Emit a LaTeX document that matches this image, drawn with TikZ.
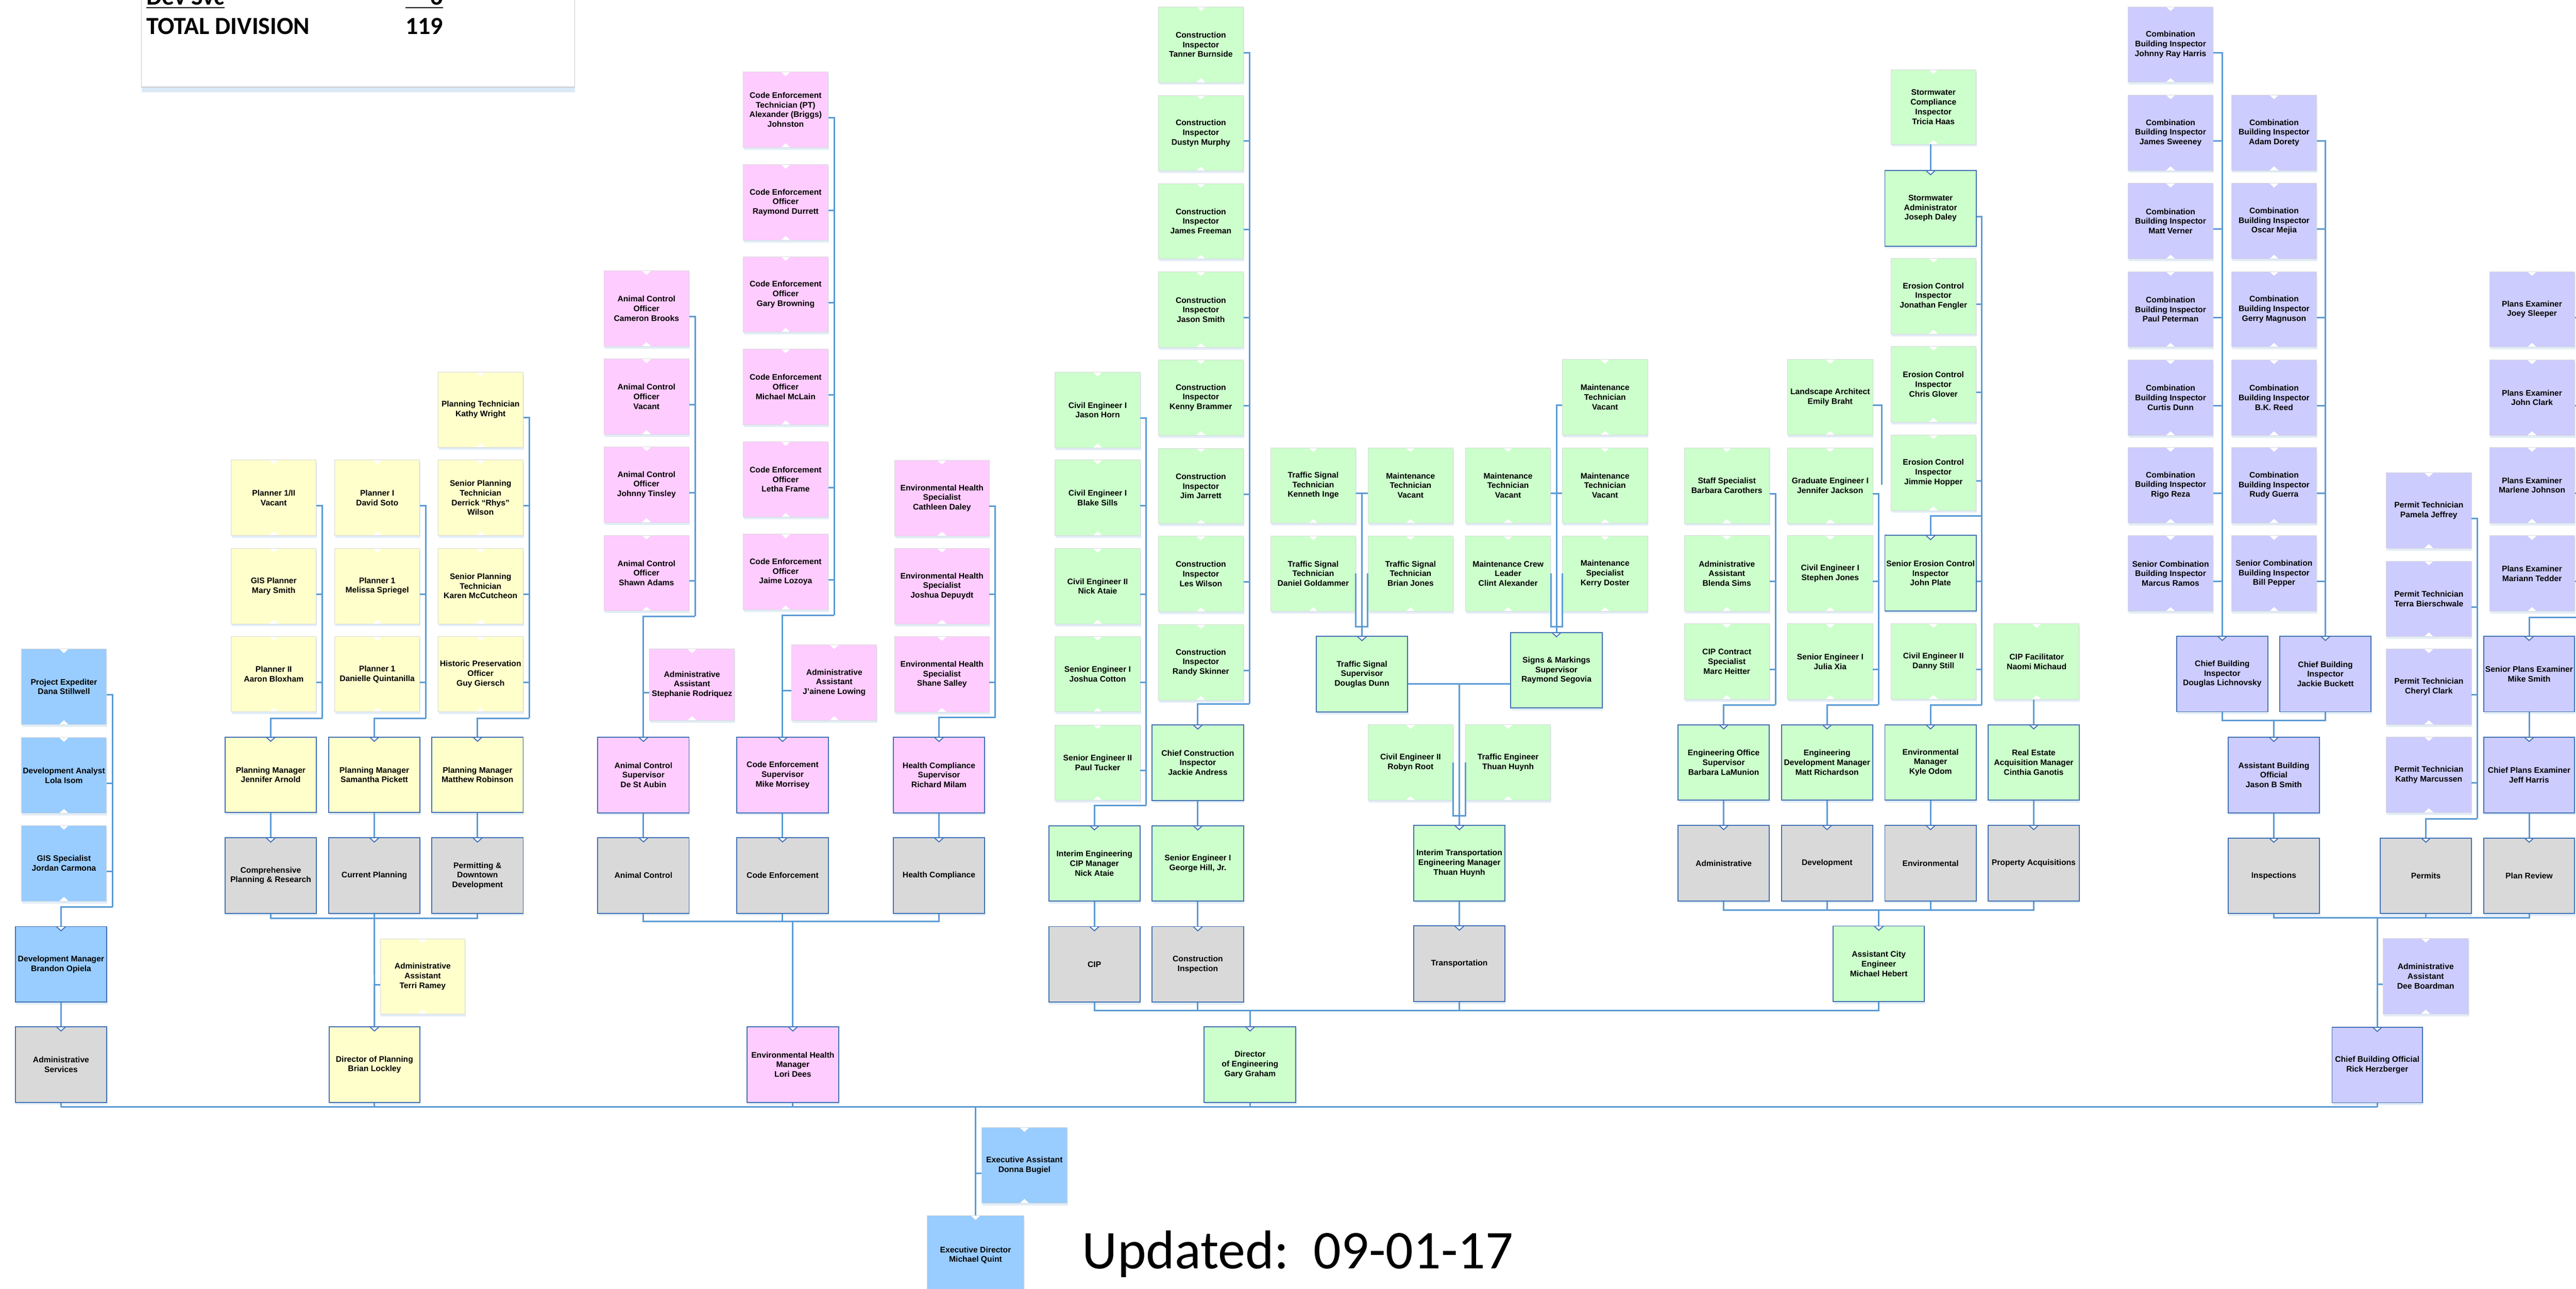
\documentclass[tikz,border=0pt]{standalone}
\usepackage{fontspec}
\setmainfont{Liberation Sans}
\newfontfamily\calib{Carlito}
\usetikzlibrary{shadows}
\newdimen\U \U=4.2672pt
\def\stoff{21pt}
\definecolor{blu}{RGB}{153,204,255}
\definecolor{yel}{RGB}{255,255,204}
\definecolor{pnk}{RGB}{255,204,255}
\definecolor{grn}{RGB}{204,255,204}
\definecolor{lav}{RGB}{204,204,255}
\definecolor{gry}{RGB}{217,217,217}
\definecolor{conc}{RGB}{91,155,213}
\definecolor{bord}{RGB}{65,113,180}
\tikzset{
 sz/.style 2 args={minimum width=#1*\U, minimum height=#2*\U},
 boxbase/.style={rectangle, inner sep=0pt, align=center, fill=#1,
   font=\fontsize{21}{25}\selectfont\bfseries,
   drop shadow={shadow xshift=2pt, shadow yshift=-6pt, fill=conc, opacity=0.18}},
 leaf/.style={boxbase=#1, sz={51.8}{46}, draw=black!15, line width=1pt,
   path picture={
    \fill[white] ([xshift=-12pt]path picture bounding box.north) -- ([yshift=-11pt]path picture bounding box.north) -- ([xshift=12pt]path picture bounding box.north) -- cycle;
    \fill[white] ([xshift=-12pt]path picture bounding box.south) -- ([yshift=11pt]path picture bounding box.south) -- ([xshift=12pt]path picture bounding box.south) -- cycle;}},
 mgr/.style={boxbase=#1, sz={55.6}{46}, draw=bord, line width=2.5pt,
   path picture={
    \fill[white] ([xshift=-12pt]path picture bounding box.north) -- ([yshift=-11pt]path picture bounding box.north) -- ([xshift=12pt]path picture bounding box.north) -- cycle;
    \draw[bord, line width=2.5pt] ([xshift=-12pt]path picture bounding box.north) -- ([yshift=-11pt]path picture bounding box.north) -- ([xshift=12pt]path picture bounding box.north);}},
 con/.style={draw=conc, line width=4pt},
 sumtxt/.style={anchor=base west, inner sep=0pt, font=\calib\bfseries\fontsize{64}{70}\selectfont},
}
\begin{document}
\begin{tikzpicture}[x=4.2672pt,y=-4.2672pt]
\useasboundingbox (0,0) rectangle (1568,784.36);

% ---------- summary box ----------
\fill[conc!22] (86.2,53) rectangle (349.9,56);
\draw[draw=black!20, line width=1.5pt, fill=white] (86.2,-20) rectangle (349.9,53);
\node[sumtxt] (dsv) at (89.1,3.1) {Dev Svc};
\node[sumtxt] (dsn) at (246.8,3.1) {\phantom{11}6};
\draw[line width=3.2pt] ([yshift=-7pt]dsv.base west) -- ([yshift=-7pt]dsv.base east);
\draw[line width=3.2pt] ([yshift=-7pt]dsn.base west) -- ([yshift=-7pt]dsn.base east);
\node[sumtxt] (tdv) at (89.1,20.9) {TOTAL DIVISION};
\node[sumtxt] (tdn) at (246.8,20.9) {119};

% ---------- Development services ----------
\node[leaf=blu] (pe) at (38.9,418) {Project Expediter\\Dana Stillwell};
\node[leaf=blu] (da) at (38.9,472) {Development Analyst\\Lola Isom};
\node[leaf=blu] (gis) at (38.9,525.5) {GIS Specialist\\Jordan Carmona};
\node[mgr=blu] (dm) at (37.15,587) {Development Manager\\Brandon Opiela};
\node[mgr=gry] (as) at (37.15,648) {Administrative\\Services};

% ---------- Planning ----------
\node[leaf=yel] (p1) at (166.6,303) {Planner 1/II\\Vacant};
\node[leaf=yel] (p2) at (166.6,356.75) {GIS Planner\\Mary Smith};
\node[leaf=yel] (p3) at (166.6,410.35) {Planner II\\Aaron Bloxham};
\node[leaf=yel] (p4) at (229.6,303) {Planner I\\David Soto};
\node[leaf=yel] (p5) at (229.6,356.75) {Planner 1\\Melissa Spriegel};
\node[leaf=yel] (p6) at (229.6,410.35) {Planner 1\\Danielle Quintanilla};
\node[leaf=yel] (p7) at (292.5,249.4) {Planning Technician\\Kathy Wright};
\node[leaf=yel] (p8) at (292.5,303) {Senior Planning\\Technician\\Derrick “Rhys”\\Wilson};
\node[leaf=yel] (p9) at (292.5,356.75) {Senior Planning\\Technician\\Karen McCutcheon};
\node[leaf=yel] (p10) at (292.5,410.35) {Historic Preservation\\Officer\\Guy Giersch};
\node[mgr=yel] (pm1) at (164.8,471.65) {Planning Manager\\Jennifer Arnold};
\node[mgr=yel] (pm2) at (227.85,471.65) {Planning Manager\\Samantha Pickett};
\node[mgr=yel] (pm3) at (290.65,471.65) {Planning Manager\\Matthew Robinson};
\node[mgr=gry] (d1) at (164.8,533) {Comprehensive\\Planning \& Research};
\node[mgr=gry] (d2) at (227.85,533) {Current Planning};
\node[mgr=gry] (d3) at (290.65,533) {Permitting \&\\Downtown\\Development};
\node[leaf=yel, sz={51.7}{45.8}] (ta) at (257.25,594.4) {Administrative\\Assistant\\Terri Ramey};
\node[mgr=yel, sz={55.1}{46}] (dp) at (227.95,648) {Director of Planning\\Brian Lockley};

% ---------- Environmental health ----------
\foreach \n/\yy/\nm in {ac1/187.8/Cameron Brooks, ac2/241.45/Vacant, ac3/295/Johnny Tinsley, ac4/348.8/Shawn Adams}
  \node[leaf=pnk] (\n) at (393.5,\yy) {Animal Control\\Officer\\\nm};
\node[leaf=pnk, sz={51.6}{43.5}] (aa1) at (421.2,416.75) {Administrative\\Assistant\\Stephanie Rodriquez};
\node[mgr=pnk] (acs) at (391.65,471.75) {Animal Control\\Supervisor\\De St Aubin};
\node[mgr=gry] (acd) at (391.65,532.9) {Animal Control};
\node[leaf=pnk] (ce1) at (478.2,66.8) {Code Enforcement\\Technician (PT)\\Alexander (Briggs)\\Johnston};
\foreach \n/\yy/\nm in {ce2/123.2/Raymond Durrett, ce3/179.2/Gary Browning, ce4/235.5/Michael McLain, ce5/291.8/Letha Frame, ce6/348.15/Jaime Lozoya}
  \node[leaf=pnk] (\n) at (478.2,\yy) {Code Enforcement\\Officer\\\nm};
\node[leaf=pnk] (aa2) at (507.8,415.5) {Administrative\\Assistant\\J’ainene Lowing};
\node[mgr=pnk] (ces) at (476.35,471.75) {Code Enforcement\\Supervisor\\Mike Morrisey};
\node[mgr=gry] (ced) at (476.35,532.9) {Code Enforcement};
\foreach \n/\yy/\nm in {eh1/303.2/Cathleen Daley, eh2/356.8/Joshua Depuydt, eh3/410.5/Shane Salley}
  \node[leaf=pnk, sz={57.5}{46}] (\n) at (573.35,\yy) {Environmental Health\\Specialist\\\nm};
\node[mgr=pnk] (hcs) at (571.55,471.75) {Health Compliance\\Supervisor\\Richard Milam};
\node[mgr=gry] (hcd) at (571.55,532.9) {Health Compliance};
\node[mgr=pnk, sz={55.8}{46}] (ehm) at (482.6,648) {Environmental Health\\Manager\\Lori Dees};

% ---------- Engineering: construction & CIP ----------
\foreach \n/\yy/\nm in {ci1/27.15/Tanner Burnside, ci2/81/Dustyn Murphy, ci3/134.65/James Freeman, ci4/188.5/Jason Smith, ci5/242/Kenny Brammer, ci6/295.85/Jim Jarrett, ci7/349.35/Les Wilson, ci8/403.2/Randy Skinner}
  \node[leaf=grn] (\n) at (730.95,\yy) {Construction\\Inspector\\\nm};
\node[mgr=grn] (cci) at (729.1,464.2) {Chief Construction\\Inspector\\Jackie Andress};
\node[mgr=grn] (se1) at (729.1,525.6) {Senior Engineer I\\George Hill, Jr.};
\node[mgr=gry] (cid) at (729.1,587) {Construction\\Inspection};
\node[leaf=grn] (cv1) at (668.1,249.55) {Civil Engineer I\\Jason Horn};
\node[leaf=grn] (cv2) at (668.1,303) {Civil Engineer I\\Blake Sills};
\node[leaf=grn] (cv3) at (668.1,356.85) {Civil Engineer II\\Nick Ataie};
\node[leaf=grn] (cv4) at (668.1,410.35) {Senior Engineer I\\Joshua Cotton};
\node[leaf=grn] (cv5) at (668.1,464.2) {Senior Engineer II\\Paul Tucker};
\node[mgr=grn] (cipm) at (666.15,525.6) {Interim Engineering\\CIP Manager\\Nick Ataie};
\node[mgr=gry] (cipd) at (666.15,587) {CIP};
\node[mgr=grn, sz={55.8}{46}] (de) at (760.9,648) {Director\\of Engineering\\Gary Graham};

% ---------- Transportation ----------
\node[leaf=grn] (ts1) at (799.35,295.5) {Traffic Signal\\Technician\\Kenneth Inge};
\node[leaf=grn] (mt1) at (858.6,295.5) {Maintenance\\Technician\\Vacant};
\node[leaf=grn] (mt2) at (917.95,295.5) {Maintenance\\Technician\\Vacant};
\node[leaf=grn] (mt3) at (976.95,295.5) {Maintenance\\Technician\\Vacant};
\node[leaf=grn] (mt4) at (976.95,241.8) {Maintenance\\Technician\\Vacant};
\node[leaf=grn] (ts2) at (799.35,349.15) {Traffic Signal\\Technician\\Daniel Goldammer};
\node[leaf=grn] (ts3) at (858.6,349.15) {Traffic Signal\\Technician\\Brian Jones};
\node[leaf=grn] (mcl) at (917.95,349.15) {Maintenance Crew\\Leader\\Clint Alexander};
\node[leaf=grn] (ms) at (976.95,349.15) {Maintenance\\Specialist\\Kerry Doster};
\node[mgr=grn] (tss) at (829,410.4) {Traffic Signal\\Supervisor\\Douglas Dunn};
\node[mgr=grn, sz={55.8}{46}] (smm) at (947.4,408) {Signs \& Markings\\Supervisor\\Raymond Segovia};
\node[leaf=grn] (ce2r) at (858.6,464.15) {Civil Engineer II\\Robyn Root};
\node[leaf=grn] (te) at (917.95,464.15) {Traffic Engineer\\Thuan Huynh};
\node[mgr=grn, sz={55.4}{46}] (itm) at (888.3,525.45) {Interim Transportation\\Engineering Manager\\Thuan Huynh};
\node[mgr=gry, sz={55.4}{46}] (trd) at (888.3,586.65) {Transportation};

% ---------- Engineering office / development / environmental ----------
\node[leaf=grn, sz={51.7}{45.4}] (sw1) at (1176.85,65.1) {Stormwater\\Compliance\\Inspector\\Tricia Haas};
\node[mgr=grn] (swa) at (1175.1,126.8) {Stormwater\\Administrator\\Joseph Daley};
\node[leaf=grn] (ec1) at (1176.85,180.3) {Erosion Control\\Inspector\\Jonathan Fengler};
\node[leaf=grn] (ec2) at (1176.85,233.9) {Erosion Control\\Inspector\\Chris Glover};
\node[leaf=grn] (ec3) at (1176.85,287.75) {Erosion Control\\Inspector\\Jimmie Hopper};
\node[mgr=grn] (sec) at (1175.1,348.9) {Senior Erosion Control\\Inspector\\John Plate};
\node[leaf=grn] (cvd) at (1176.85,402.55) {Civil Engineer II\\Danny Still};
\node[mgr=grn] (em) at (1175.1,464.1) {Environmental\\Manager\\Kyle Odom};
\node[mgr=gry] (envd) at (1175.1,525.4) {Environmental};
\node[leaf=grn] (la) at (1114,241.8) {Landscape Architect\\Emily Braht};
\node[leaf=grn] (ge) at (1114,295.6) {Graduate Engineer I\\Jennifer Jackson};
\node[leaf=grn] (cej) at (1114,349.1) {Civil Engineer I\\Stephen Jones};
\node[leaf=grn] (sej) at (1114,402.7) {Senior Engineer I\\Julia Xia};
\node[mgr=grn] (edm) at (1112.1,464.1) {Engineering\\Development Manager\\Matt Richardson};
\node[mgr=gry] (devd) at (1112.1,525.4) {Development};
\node[leaf=grn] (ss) at (1051.1,295.6) {Staff Specialist\\Barbara Carothers};
\node[leaf=grn] (aab) at (1051.1,349.1) {Administrative\\Assistant\\Blenda Sims};
\node[leaf=grn] (cip) at (1051.1,402.7) {CIP Contract\\Specialist\\Marc Heitter};
\node[mgr=grn] (eos) at (1049.2,464.1) {Engineering Office\\Supervisor\\Barbara LaMunion};
\node[mgr=gry] (admd) at (1049.2,525.4) {Administrative};
\node[leaf=grn] (cf) at (1239.7,402.7) {CIP Facilitator\\Naomi Michaud};
\node[mgr=grn, sz={55.4}{46}] (rea) at (1237.9,464.1) {Real Estate\\Acquisition Manager\\Cinthia Ganotis};
\node[mgr=gry, sz={55.4}{46}] (pad) at (1237.9,525.4) {Property Acquisitions};
\node[mgr=grn] (ace) at (1143.6,586.7) {Assistant City\\Engineer\\Michael Hebert};

% ---------- Building ----------
\foreach \n/\yy/\nm in {cb1/27.1/Johnny Ray Harris, cb2/80.8/James Sweeney, cb3/134.6/Matt Verner, cb4/188.3/Paul Peterman, cb5/242.1/Curtis Dunn, cb6/295.4/Rigo Reza}
  \node[leaf=lav] (\n) at (1321.2,\yy) {Combination\\Building Inspector\\\nm};
\node[leaf=lav] (cb7) at (1321.2,349.1) {Senior Combination\\Building Inspector\\Marcus Ramos};
\foreach \n/\yy/\nm in {cb8/80.8/Adam Dorety, cb9/134.6/Oscar Mejia, cb10/188.3/Gerry Magnuson, cb11/242.1/B.K. Reed, cb12/295.4/Rudy Guerra}
  \node[leaf=lav] (\n) at (1384.2,\yy) {Combination\\Building Inspector\\\nm};
\node[leaf=lav] (cb13) at (1384.2,349.1) {Senior Combination\\Building Inspector\\Bill Pepper};
\node[mgr=lav] (cbi1) at (1352.65,410.25) {Chief Building\\Inspector\\Douglas Lichnovsky};
\node[mgr=lav] (cbi2) at (1415.45,410.25) {Chief Building\\Inspector\\Jackie Buckett};
\node[mgr=lav] (abo) at (1384.05,471.75) {Assistant Building\\Official\\Jason B Smith};
\node[mgr=gry] (insd) at (1384.05,533.1) {Inspections};
\foreach \n/\yy/\nm in {pt1/310.75/Pamela Jeffrey, pt2/364.5/Terra Bierschwale, pt3/418/Cheryl Clark, pt4/471.55/Kathy Marcussen}
  \node[leaf=lav] (\n) at (1478.4,\yy) {Permit Technician\\\nm};
\node[mgr=gry, sz={55.4}{46}] (permd) at (1476.6,533.1) {Permits};
\foreach \n/\yy/\nm in {pe1/188.3/Joey Sleeper, pe2/242.1/John Clark, pe3/295.4/Marlene Johnson, pe4/349.1/Mariann Tedder}
  \node[leaf=lav] (\n) at (1541.2,\yy) {Plans Examiner\\\nm};
\node[mgr=lav, sz={55.3}{46}] (spe) at (1539.45,410.25) {Senior Plans Examiner\\Mike Smith};
\node[mgr=lav, sz={55.3}{46}] (cpe) at (1539.45,471.75) {Chief Plans Examiner\\Jeff Harris};
\node[mgr=gry, sz={55.3}{46}] (prd) at (1539.45,533.1) {Plan Review};
\node[leaf=lav, sz={52}{46}] (dee) at (1476.5,594.2) {Administrative\\Assistant\\Dee Boardman};
\node[mgr=lav, sz={55}{46}] (cbo) at (1447,648.25) {Chief Building Official\\Rick Herzberger};

% ---------- Executive ----------
\node[leaf=blu, sz={52.1}{46}] (ea) at (623.55,709.4) {Executive Assistant\\Donna Bugiel};
\node[leaf=blu, sz={58.8}{48}] (ed) at (593.8,764) {Executive Director\\Michael Quint};
\node[anchor=base west, inner sep=0pt, font=\calib\fontsize{142}{150}\selectfont] (upd) at (658.8,772.3) {Updated:\ \ 09-01-17};

% ================= CONNECTORS =================
\coordinate (busL) at (37.15,673.8);
\coordinate (busR) at (1447,673.8);
\draw[con] (busL) -- (busR);
\foreach \n in {as,dp,ehm,de,cbo} \draw[con] (\n.south) -- (\n.south |- busL);
\draw[con] (ed.north) -- (ed.north |- busL);
\draw[con] ([yshift=-\stoff]ea.west) -| (ed.north);

% dev services
\foreach \n in {pe,da,gis} \draw[con] ([yshift=-\stoff]\n.east) -| (68.6,552);
\draw[con] (68.6,552) -| (dm.north);
\draw[con] (dm.south) -- (as.north);

% planning
\foreach \n in {p1,p2,p3} \draw[con] ([yshift=-\stoff]\n.east) -| (196.2,437.2);
\draw[con] (196.2,437.2) -| (pm1.north);
\foreach \n in {p4,p5,p6} \draw[con] ([yshift=-\stoff]\n.east) -| (259.2,437.2);
\draw[con] (259.2,437.2) -| (pm2.north);
\foreach \n in {p7,p8,p9,p10} \draw[con] ([yshift=-\stoff]\n.east) -| (322.2,437.2);
\draw[con] (322.2,437.2) -| (pm3.north);
\draw[con] (pm1.south) -- (d1.north);
\draw[con] (pm2.south) -- (d2.north);
\draw[con] (pm3.south) -- (d3.north);
\coordinate (pb) at (227.85,559);
\draw[con] (d1.south) |- (pb) -| (d3.south);
\draw[con] (d2.south) -- (dp.north);
\draw[con] ([yshift=-\stoff]ta.west) -| (dp.north);

% environmental health
\foreach \n in {ac1,ac2,ac3,ac4} \draw[con] ([yshift=-\stoff]\n.east) -| (423.1,375.1);
\draw[con] (423.1,375.1) -| (acs.north);
\draw[con] ([yshift=-\stoff]aa1.west) -| (acs.north);
\draw[con] (acs.south) -- (acd.north);
\foreach \n in {ce1,ce2,ce3,ce4,ce5,ce6} \draw[con] ([yshift=-\stoff]\n.east) -| (507.8,374.5);
\draw[con] (507.8,374.5) -| (ces.north);
\draw[con] ([yshift=-\stoff]aa2.west) -| (ces.north);
\draw[con] (ces.south) -- (ced.north);
\foreach \n in {eh1,eh2,eh3} \draw[con] ([yshift=-\stoff]\n.east) -| (605.8,436.8);
\draw[con] (605.8,436.8) -| (hcs.north);
\draw[con] (hcs.south) -- (hcd.north);
\coordinate (eb) at (482.6,560.8);
\draw[con] (acd.south) |- (eb) -| (hcd.south);
\draw[con] (ced.south) -- (ced.south |- eb);
\draw[con] (eb) -- (ehm.north);

% construction / CIP
\foreach \n in {ci1,ci2,ci3,ci4,ci5,ci6,ci7,ci8} \draw[con] ([yshift=-\stoff]\n.east) -| (760.6,428.5);
\draw[con] (760.6,428.5) -| (cci.north);
\draw[con] (cci.south) -- (se1.north);
\draw[con] (se1.south) -- (cid.north);
\foreach \n in {cv1,cv2,cv3,cv4,cv5} \draw[con] ([yshift=-\stoff]\n.east) -| (697.7,490.3);
\draw[con] (697.7,490.3) -| (cipm.north);
\draw[con] (cipm.south) -- (cipd.north);

% transportation
\draw[con] ([yshift=-\stoff]ts1.east) -- ([yshift=-\stoff]mt1.west);
\draw[con] (tss.north) -- (829,300.4);
\coordinate (tb) at (829,381.5);
\draw[con] (ts2.east) |- (tb) -| (ts3.west);
\draw[con] ([yshift=-\stoff]mt4.west) -| (smm.north);
\draw[con] ([yshift=-\stoff]mt2.east) -- ([yshift=-\stoff]mt3.west);
\coordinate (sb) at (947.4,381.5);
\draw[con] (mcl.east) |- (sb) -| (ms.west);
\coordinate (tj) at (888.3,416.2);
\draw[con] (tss.east |- tj) -- (smm.west |- tj);
\draw[con] (tj) -- (itm.north);
\coordinate (rb) at (888.3,496.6);
\draw[con] (ce2r.east) |- (rb) -| (te.west);
\draw[con] (itm.south) -- (trd.north);

% engineering bus
\coordinate (gb) at (760.9,615);
\draw[con] (cipd.south) |- (ace.south |- gb) -- (ace.south);
\draw[con] (cid.south) -- (cid.south |- gb);
\draw[con] (trd.south) -- (trd.south |- gb);
\draw[con] (gb) -- (de.north);

% stormwater / environmental
\draw[con] (swa.north |- sw1.south) -- (swa.north);
\foreach \n in {swa,ec1,ec2,ec3,sec,cvd} \draw[con] ([yshift=-\stoff]\n.east) -| (1206.4,429.1);
\draw[con] (1206.4,429.1) -| (em.north);
\draw[con] (1206.4,314.1) -| (sec.north);
\draw[con] (em.south) -- (envd.north);
% development
\coordinate (laend) at (1145.5,295);
\draw[con] ([yshift=-\stoff]la.east) -| (laend);
\foreach \n in {ge,cej,sej} \draw[con] ([yshift=-\stoff]\n.east) -| (1143.5,429.1);
\draw[con] (1143.5,429.1) -| (edm.north);
\draw[con] (edm.south) -- (devd.north);
% administrative
\foreach \n in {ss,aab,cip} \draw[con] ([yshift=-\stoff]\n.east) -| (1080.8,429.1);
\draw[con] (1080.8,429.1) -| (eos.north);
\draw[con] (eos.south) -- (admd.north);
% property
\draw[con] (rea.north |- cf.south) -- (rea.north);
\draw[con] (rea.south) -- (pad.north);
\coordinate (ab) at (1143.6,553.9);
\draw[con] (admd.south) |- (ab) -| (pad.south);
\draw[con] (devd.south) -- (devd.south |- ab);
\draw[con] (envd.south) -- (envd.south |- ab);
\draw[con] (ab) -- (ace.north);

% building
\foreach \n in {cb1,cb2,cb3,cb4,cb5,cb6,cb7} \draw[con] ([yshift=-\stoff]\n.east) -| (cbi1.north);
\foreach \n in {cb8,cb9,cb10,cb11,cb12,cb13} \draw[con] ([yshift=-\stoff]\n.east) -| (cbi2.north);
\coordinate (ib) at (1384.05,438.6);
\draw[con] (cbi1.south) |- (ib) -| (cbi2.south);
\draw[con] (ib) -- (abo.north);
\draw[con] (abo.south) -- (insd.north);
\foreach \n in {pt1,pt2,pt3,pt4} \draw[con] ([yshift=-\stoff]\n.east) -| (1507.9,498.4);
\draw[con] (1507.9,498.4) -| (permd.north);
\foreach \n in {pe1,pe2,pe3,pe4} \draw[con] ([yshift=-\stoff]\n.east) -| (1572,375.8);
\draw[con] (1572,375.8) -| (spe.north);
\draw[con] (spe.south) -- (cpe.north);
\draw[con] (cpe.south) -- (prd.north);
\coordinate (bb) at (1447,558.7);
\draw[con] (insd.south) |- (bb) -| (prd.south);
\draw[con] (permd.south) -- (permd.south |- bb);
\draw[con] (bb) -- (cbo.north);
\draw[con] ([yshift=-\stoff]dee.west) -| (cbo.north);
\end{tikzpicture}
\end{document}
